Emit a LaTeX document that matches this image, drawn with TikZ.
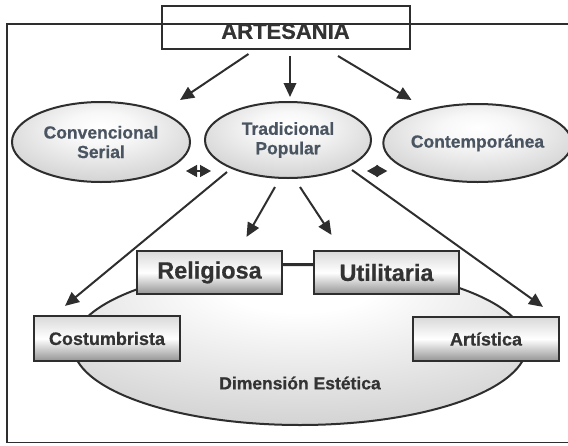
\documentclass[tikz,border=0pt]{standalone}
\usepackage{fontspec}
\setmainfont{Liberation Sans}[BoldFeatures={FakeBold=0.6}]
\usetikzlibrary{arrows.meta,shapes.geometric,calc}
\definecolor{lncol}{HTML}{2E2E2E}
\definecolor{etx}{HTML}{4A5561}
\definecolor{btx}{HTML}{333333}
\pgfdeclareradialshading{ellsh}{\pgfpoint{0bp}{10bp}}{color(0bp)=(white); color(10bp)=(white!97!black); color(50bp)=(black!30); color(80bp)=(black!30)}
\pgfdeclareradialshading{bigsh}{\pgfpoint{0bp}{20bp}}{color(0bp)=(white); color(8bp)=(white); color(55bp)=(black!28); color(90bp)=(black!28)}
\begin{document}
\begin{tikzpicture}[x=1pt,y=-1pt,
  lnst/.style={draw=lncol, line width=2pt},
  ell/.style={ellipse, draw=lncol, line width=2pt, shade, shading=ellsh, inner sep=0pt, text=etx,
    font=\fontsize{17.5}{19.5}\selectfont\bfseries, align=center},
  bx/.style={rectangle, draw=lncol, line width=2.2pt, top color=black!15, bottom color=black!42,
    middle color=white, inner sep=0pt, text=btx},
  arr/.style={draw=lncol, line width=2pt, -{Triangle[length=14pt,width=12.5pt]}},
  dbl/.style={draw=lncol, line width=1.4pt, {Triangle[length=11pt,width=12pt]}-{Triangle[length=11pt,width=12pt]}}]
\useasboundingbox (0,0) rectangle (568,445);
% outer frame
\draw[lnst, line width=1.8pt] (570,24) -- (7,24) -- (7,442.5) -- (570,442.5);
% title
\node[draw=lncol, line width=2pt, minimum width=248pt, minimum height=43pt, inner sep=0pt,
  text=btx, font=\fontsize{22}{24}\selectfont\bfseries, text height=22.6pt, text depth=0pt]
  (art) at (285.5,27.5) {ARTESANIA};
% ellipses
\node[ell, minimum width=178pt, minimum height=80pt] (conv) at (101,142) {Convencional\\Serial};
\node[ell, minimum width=166pt, minimum height=76pt] (trad) at (288,140) {Tradicional\\Popular};
\node[ell, minimum width=179pt, minimum height=78pt] (cont) at (477.5,143) {Contemporánea};
% dimension
\node[ellipse, draw=lncol, line width=2pt, shade, shading=bigsh, minimum width=454pt, minimum height=160pt, inner sep=0pt]
  (dim) at (300,345) {};
\node[text=btx, font=\fontsize{17.5}{20}\selectfont\bfseries] (dimtxt) at (300,383) {Dimensión Estética};
% boxes
\node[bx, minimum width=145pt, minimum height=43pt, font=\fontsize{23.5}{26}\selectfont\bfseries] (rel) at (209.5,272.5) {Religiosa};
\node[bx, minimum width=145pt, minimum height=43pt, font=\fontsize{23.5}{26}\selectfont\bfseries] (util) at (386.5,272.5) {Utilitaria};
\node[bx, minimum width=146pt, minimum height=45pt, font=\fontsize{18}{20}\selectfont\bfseries] (cost) at (107,338.5) {Costumbrista};
\node[bx, minimum width=146pt, minimum height=44pt, font=\fontsize{18}{20}\selectfont\bfseries] (artis) at (486,339) {Artística};
\draw[lnst] ([yshift=8.5pt]rel.east) -- ([yshift=8.5pt]util.west);
% arrows from title
\draw[arr] ($(art.south)+(-37,4)$) -- ($(conv.north)+(79,-1)$);
\draw[arr] ($(art.south)+(4.5,6)$) -- ($(trad.north)+(2,-4)$);
\draw[arr] ($(art.south)+(52.5,6)$) -- ($(cont.north)+(-66,-3)$);
% double arrows
\draw[dbl] ($(conv.east)+(-5,29)$) -- ($(trad.west)+(7,31)$);
\draw[dbl] ($(trad.east)+(-5,31)$) -- ($(cont.west)+(5,28)$);
% arrows from Tradicional Popular
\draw[arr] ($(trad.center)+(-61,32)$) -- ($(cost.north)+(-42,-9)$);
\draw[arr] ($(trad.center)+(64,30)$) -- ($(artis.north)+(57,-9)$);
\draw[arr] ($(trad.south)+(-13,8)$) -- ($(rel.north)+(37,-13)$);
\draw[arr] ($(trad.south)+(12,8)$) -- ($(util.north)+(-55,-15)$);
\end{tikzpicture}
\end{document}
